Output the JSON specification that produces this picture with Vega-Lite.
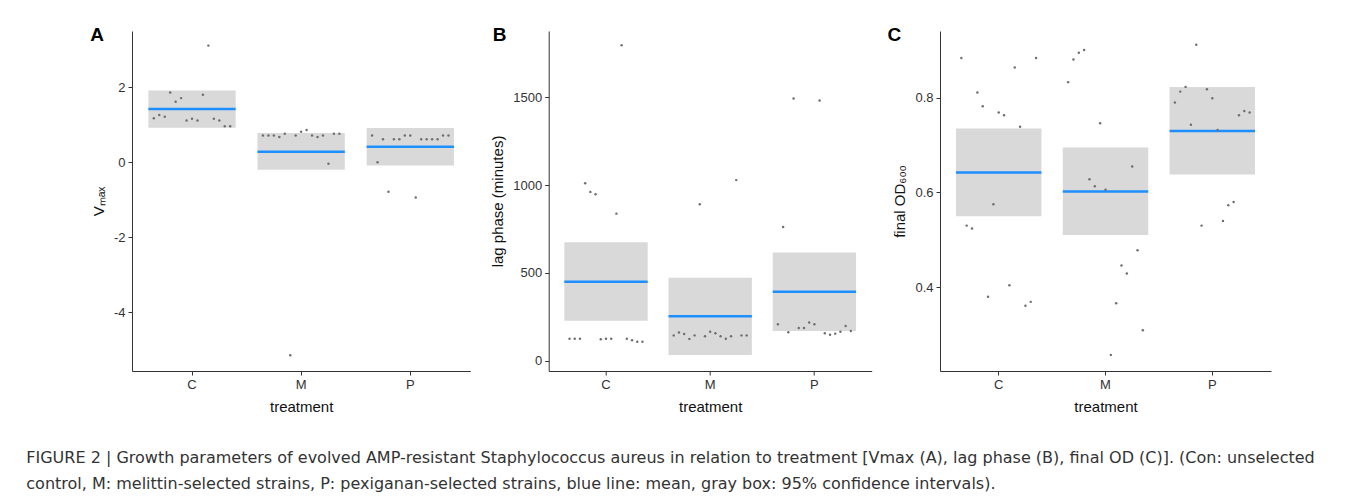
{
  "$schema": "https://vega.github.io/schema/vega-lite/v6.json",
  "background": "white",
  "padding": {"left": 26, "top": 26, "right": 5, "bottom": 5},
  "config": {
    "view": {"stroke": null},
    "font": "Liberation Sans",
    "axis": {"domainColor": "#333333", "domainWidth": 1, "tickColor": "#333333", "tickSize": 4, "tickWidth": 1, "labelColor": "#333333", "labelFontSize": 13, "titleFontSize": 15, "titleFontWeight": "normal", "titleColor": "#111111", "labelPadding": 3, "grid": false, "titlePadding": 7},
    "axisX": {"labelAngle": 0, "titlePadding": 8},
    "title": {"font": "Liberation Sans"}
  },
  "title": {
    "text": ["FIGURE 2 | Growth parameters of evolved AMP-resistant Staphylococcus aureus in relation to treatment [Vmax (A), lag phase (B), final OD (C)]. (Con: unselected", "control, M: melittin-selected strains, P: pexiganan-selected strains, blue line: mean, gray box: 95% confidence intervals)."],
    "orient": "bottom", "anchor": "start", "frame": "group", "dx": -105.7, "offset": 36,
    "font": "DejaVu Sans", "fontSize": 16, "fontWeight": "normal", "color": "#333333", "lineHeight": 26
  },
  "datasets": {
    "summ": [
      {"panel": "A", "treatment": "C", "mean": 1.42, "lo": 0.92, "hi": 1.91},
      {"panel": "A", "treatment": "M", "mean": 0.28, "lo": -0.20, "hi": 0.78},
      {"panel": "A", "treatment": "P", "mean": 0.41, "lo": -0.09, "hi": 0.91},
      {"panel": "B", "treatment": "C", "mean": 450, "lo": 228, "hi": 675},
      {"panel": "B", "treatment": "M", "mean": 253, "lo": 32, "hi": 473},
      {"panel": "B", "treatment": "P", "mean": 393, "lo": 169, "hi": 616},
      {"panel": "C", "treatment": "C", "mean": 0.642, "lo": 0.550, "hi": 0.735},
      {"panel": "C", "treatment": "M", "mean": 0.602, "lo": 0.510, "hi": 0.695},
      {"panel": "C", "treatment": "P", "mean": 0.730, "lo": 0.638, "hi": 0.823}
    ],
    "pts": [
      {"panel": "A", "treatment": "C", "jitter": -0.35, "value": 1.17},
      {"panel": "A", "treatment": "C", "jitter": -0.30, "value": 1.26},
      {"panel": "A", "treatment": "C", "jitter": -0.25, "value": 1.21},
      {"panel": "A", "treatment": "C", "jitter": -0.20, "value": 1.86},
      {"panel": "A", "treatment": "C", "jitter": -0.15, "value": 1.61},
      {"panel": "A", "treatment": "C", "jitter": -0.10, "value": 1.71},
      {"panel": "A", "treatment": "C", "jitter": -0.05, "value": 1.11},
      {"panel": "A", "treatment": "C", "jitter": 0.00, "value": 1.16},
      {"panel": "A", "treatment": "C", "jitter": 0.05, "value": 1.11},
      {"panel": "A", "treatment": "C", "jitter": 0.10, "value": 1.80},
      {"panel": "A", "treatment": "C", "jitter": 0.15, "value": 3.11},
      {"panel": "A", "treatment": "C", "jitter": 0.20, "value": 1.16},
      {"panel": "A", "treatment": "C", "jitter": 0.25, "value": 1.11},
      {"panel": "A", "treatment": "C", "jitter": 0.30, "value": 0.96},
      {"panel": "A", "treatment": "C", "jitter": 0.35, "value": 0.96},
      {"panel": "A", "treatment": "M", "jitter": -0.35, "value": 0.71},
      {"panel": "A", "treatment": "M", "jitter": -0.30, "value": 0.71},
      {"panel": "A", "treatment": "M", "jitter": -0.25, "value": 0.71},
      {"panel": "A", "treatment": "M", "jitter": -0.20, "value": 0.67},
      {"panel": "A", "treatment": "M", "jitter": -0.15, "value": 0.76},
      {"panel": "A", "treatment": "M", "jitter": -0.10, "value": -5.15},
      {"panel": "A", "treatment": "M", "jitter": -0.05, "value": 0.71},
      {"panel": "A", "treatment": "M", "jitter": 0.00, "value": 0.81},
      {"panel": "A", "treatment": "M", "jitter": 0.05, "value": 0.86},
      {"panel": "A", "treatment": "M", "jitter": 0.10, "value": 0.71},
      {"panel": "A", "treatment": "M", "jitter": 0.15, "value": 0.67},
      {"panel": "A", "treatment": "M", "jitter": 0.20, "value": 0.71},
      {"panel": "A", "treatment": "M", "jitter": 0.25, "value": -0.04},
      {"panel": "A", "treatment": "M", "jitter": 0.30, "value": 0.76},
      {"panel": "A", "treatment": "M", "jitter": 0.35, "value": 0.76},
      {"panel": "A", "treatment": "P", "jitter": -0.35, "value": 0.71},
      {"panel": "A", "treatment": "P", "jitter": -0.30, "value": 0.00},
      {"panel": "A", "treatment": "P", "jitter": -0.25, "value": 0.61},
      {"panel": "A", "treatment": "P", "jitter": -0.20, "value": -0.79},
      {"panel": "A", "treatment": "P", "jitter": -0.15, "value": 0.61},
      {"panel": "A", "treatment": "P", "jitter": -0.10, "value": 0.61},
      {"panel": "A", "treatment": "P", "jitter": -0.05, "value": 0.71},
      {"panel": "A", "treatment": "P", "jitter": 0.00, "value": 0.71},
      {"panel": "A", "treatment": "P", "jitter": 0.05, "value": -0.94},
      {"panel": "A", "treatment": "P", "jitter": 0.10, "value": 0.61},
      {"panel": "A", "treatment": "P", "jitter": 0.15, "value": 0.61},
      {"panel": "A", "treatment": "P", "jitter": 0.20, "value": 0.61},
      {"panel": "A", "treatment": "P", "jitter": 0.25, "value": 0.61},
      {"panel": "A", "treatment": "P", "jitter": 0.30, "value": 0.71},
      {"panel": "A", "treatment": "P", "jitter": 0.35, "value": 0.71},
      {"panel": "B", "treatment": "C", "jitter": -0.35, "value": 125},
      {"panel": "B", "treatment": "C", "jitter": -0.30, "value": 125},
      {"panel": "B", "treatment": "C", "jitter": -0.25, "value": 125},
      {"panel": "B", "treatment": "C", "jitter": -0.20, "value": 1011},
      {"panel": "B", "treatment": "C", "jitter": -0.15, "value": 962},
      {"panel": "B", "treatment": "C", "jitter": -0.10, "value": 948},
      {"panel": "B", "treatment": "C", "jitter": -0.05, "value": 122},
      {"panel": "B", "treatment": "C", "jitter": 0.00, "value": 125},
      {"panel": "B", "treatment": "C", "jitter": 0.05, "value": 125},
      {"panel": "B", "treatment": "C", "jitter": 0.10, "value": 838},
      {"panel": "B", "treatment": "C", "jitter": 0.15, "value": 1798},
      {"panel": "B", "treatment": "C", "jitter": 0.20, "value": 125},
      {"panel": "B", "treatment": "C", "jitter": 0.25, "value": 116},
      {"panel": "B", "treatment": "C", "jitter": 0.30, "value": 108},
      {"panel": "B", "treatment": "C", "jitter": 0.35, "value": 108},
      {"panel": "B", "treatment": "M", "jitter": -0.35, "value": 144},
      {"panel": "B", "treatment": "M", "jitter": -0.30, "value": 160},
      {"panel": "B", "treatment": "M", "jitter": -0.25, "value": 152},
      {"panel": "B", "treatment": "M", "jitter": -0.20, "value": 124},
      {"panel": "B", "treatment": "M", "jitter": -0.15, "value": 144},
      {"panel": "B", "treatment": "M", "jitter": -0.10, "value": 891},
      {"panel": "B", "treatment": "M", "jitter": -0.05, "value": 139},
      {"panel": "B", "treatment": "M", "jitter": 0.00, "value": 165},
      {"panel": "B", "treatment": "M", "jitter": 0.05, "value": 156},
      {"panel": "B", "treatment": "M", "jitter": 0.10, "value": 139},
      {"panel": "B", "treatment": "M", "jitter": 0.15, "value": 125},
      {"panel": "B", "treatment": "M", "jitter": 0.20, "value": 139},
      {"panel": "B", "treatment": "M", "jitter": 0.25, "value": 1029},
      {"panel": "B", "treatment": "M", "jitter": 0.30, "value": 144},
      {"panel": "B", "treatment": "M", "jitter": 0.35, "value": 144},
      {"panel": "B", "treatment": "P", "jitter": -0.35, "value": 207},
      {"panel": "B", "treatment": "P", "jitter": -0.30, "value": 762},
      {"panel": "B", "treatment": "P", "jitter": -0.25, "value": 162},
      {"panel": "B", "treatment": "P", "jitter": -0.20, "value": 1494},
      {"panel": "B", "treatment": "P", "jitter": -0.15, "value": 186},
      {"panel": "B", "treatment": "P", "jitter": -0.10, "value": 186},
      {"panel": "B", "treatment": "P", "jitter": -0.05, "value": 217},
      {"panel": "B", "treatment": "P", "jitter": 0.00, "value": 207},
      {"panel": "B", "treatment": "P", "jitter": 0.05, "value": 1483},
      {"panel": "B", "treatment": "P", "jitter": 0.10, "value": 156},
      {"panel": "B", "treatment": "P", "jitter": 0.15, "value": 148},
      {"panel": "B", "treatment": "P", "jitter": 0.20, "value": 154},
      {"panel": "B", "treatment": "P", "jitter": 0.25, "value": 165},
      {"panel": "B", "treatment": "P", "jitter": 0.30, "value": 198},
      {"panel": "B", "treatment": "P", "jitter": 0.35, "value": 169},
      {"panel": "C", "treatment": "C", "jitter": -0.35, "value": 0.884},
      {"panel": "C", "treatment": "C", "jitter": -0.30, "value": 0.530},
      {"panel": "C", "treatment": "C", "jitter": -0.25, "value": 0.524},
      {"panel": "C", "treatment": "C", "jitter": -0.20, "value": 0.811},
      {"panel": "C", "treatment": "C", "jitter": -0.15, "value": 0.782},
      {"panel": "C", "treatment": "C", "jitter": -0.10, "value": 0.380},
      {"panel": "C", "treatment": "C", "jitter": -0.05, "value": 0.575},
      {"panel": "C", "treatment": "C", "jitter": 0.00, "value": 0.769},
      {"panel": "C", "treatment": "C", "jitter": 0.05, "value": 0.763},
      {"panel": "C", "treatment": "C", "jitter": 0.10, "value": 0.404},
      {"panel": "C", "treatment": "C", "jitter": 0.15, "value": 0.864},
      {"panel": "C", "treatment": "C", "jitter": 0.20, "value": 0.739},
      {"panel": "C", "treatment": "C", "jitter": 0.25, "value": 0.361},
      {"panel": "C", "treatment": "C", "jitter": 0.30, "value": 0.369},
      {"panel": "C", "treatment": "C", "jitter": 0.35, "value": 0.884},
      {"panel": "C", "treatment": "M", "jitter": -0.35, "value": 0.833},
      {"panel": "C", "treatment": "M", "jitter": -0.30, "value": 0.881},
      {"panel": "C", "treatment": "M", "jitter": -0.25, "value": 0.895},
      {"panel": "C", "treatment": "M", "jitter": -0.20, "value": 0.901},
      {"panel": "C", "treatment": "M", "jitter": -0.15, "value": 0.628},
      {"panel": "C", "treatment": "M", "jitter": -0.10, "value": 0.613},
      {"panel": "C", "treatment": "M", "jitter": -0.05, "value": 0.746},
      {"panel": "C", "treatment": "M", "jitter": 0.00, "value": 0.606},
      {"panel": "C", "treatment": "M", "jitter": 0.05, "value": 0.257},
      {"panel": "C", "treatment": "M", "jitter": 0.10, "value": 0.366},
      {"panel": "C", "treatment": "M", "jitter": 0.15, "value": 0.446},
      {"panel": "C", "treatment": "M", "jitter": 0.20, "value": 0.429},
      {"panel": "C", "treatment": "M", "jitter": 0.25, "value": 0.655},
      {"panel": "C", "treatment": "M", "jitter": 0.30, "value": 0.478},
      {"panel": "C", "treatment": "M", "jitter": 0.35, "value": 0.309},
      {"panel": "C", "treatment": "P", "jitter": -0.35, "value": 0.790},
      {"panel": "C", "treatment": "P", "jitter": -0.30, "value": 0.813},
      {"panel": "C", "treatment": "P", "jitter": -0.25, "value": 0.823},
      {"panel": "C", "treatment": "P", "jitter": -0.20, "value": 0.743},
      {"panel": "C", "treatment": "P", "jitter": -0.15, "value": 0.912},
      {"panel": "C", "treatment": "P", "jitter": -0.10, "value": 0.530},
      {"panel": "C", "treatment": "P", "jitter": -0.05, "value": 0.818},
      {"panel": "C", "treatment": "P", "jitter": 0.00, "value": 0.799},
      {"panel": "C", "treatment": "P", "jitter": 0.05, "value": 0.732},
      {"panel": "C", "treatment": "P", "jitter": 0.10, "value": 0.540},
      {"panel": "C", "treatment": "P", "jitter": 0.15, "value": 0.573},
      {"panel": "C", "treatment": "P", "jitter": 0.20, "value": 0.580},
      {"panel": "C", "treatment": "P", "jitter": 0.25, "value": 0.763},
      {"panel": "C", "treatment": "P", "jitter": 0.30, "value": 0.772},
      {"panel": "C", "treatment": "P", "jitter": 0.35, "value": 0.769}
    ]
  },
  "spacing": 77.7,
  "bounds": "flush",
  "hconcat": [
    {
      "width": 338.3, "height": 340,
      "title": {"text": "A", "anchor": "start", "frame": "group", "dx": -41.7, "offset": 0, "dy": 29, "baseline": "alphabetic", "fontSize": 19, "fontWeight": "bold", "color": "#000000"},
      "resolve": {"scale": {"x": "independent", "xOffset": "independent"}},
      "layer": [
        {"data": {"name": "summ"}, "transform": [{"filter": "datum.panel === 'A'"}],
         "layer": [
           {"mark": {"type": "bar", "color": "#d9d9d9"},
            "encoding": {
              "x": {"field": "treatment", "type": "nominal", "scale": {"paddingInner": 0.2, "paddingOuter": 0.15}, "axis": {"title": "treatment"}},
              "y": {"field": "lo", "type": "quantitative", "scale": {"domain": [-5.57, 3.5], "nice": false, "zero": false}, "axis": {"title": "Vₘₐₓ", "values": [-4, -2, 0, 2], "labelExpr": "toString(datum.value)"}},
              "y2": {"field": "hi"}}},
           {"mark": {"type": "bar", "fill": "transparent", "stroke": "#1e8fff", "strokeWidth": 2.5},
            "encoding": {
              "x": {"field": "treatment", "type": "nominal", "axis": {"title": "treatment"}},
              "y": {"field": "mean", "type": "quantitative", "axis": {"title": "Vₘₐₓ", "values": [-4, -2, 0, 2], "labelExpr": "toString(datum.value)"}},
              "y2": {"field": "mean"}}}
         ]},
        {"data": {"name": "pts"}, "transform": [{"filter": "datum.panel === 'A'"}],
         "mark": {"type": "point", "filled": true, "size": 6, "color": "#6e6e6e", "opacity": 1},
         "encoding": {
           "x": {"field": "treatment", "type": "nominal", "scale": {"paddingInner": 0.2, "paddingOuter": 0.15}, "axis": null},
           "xOffset": {"field": "jitter", "type": "quantitative", "scale": {"domain": [-0.4, 0.4]}},
           "y": {"field": "value", "type": "quantitative", "axis": {"title": "Vₘₐₓ", "values": [-4, -2, 0, 2], "labelExpr": "toString(datum.value)"}}}}
      ]
    },
    {
      "spacing": 68.3,
      "bounds": "flush",
      "hconcat": [
        {
          "width": 323, "height": 340,
          "title": {"text": "B", "anchor": "start", "frame": "group", "dx": -56, "offset": 0, "dy": 29, "baseline": "alphabetic", "fontSize": 19, "fontWeight": "bold", "color": "#000000"},
          "resolve": {"scale": {"x": "independent", "xOffset": "independent"}},
          "layer": [
            {"data": {"name": "summ"}, "transform": [{"filter": "datum.panel === 'B'"}],
             "layer": [
               {"mark": {"type": "bar", "color": "#d9d9d9"},
                "encoding": {
                  "x": {"field": "treatment", "type": "nominal", "scale": {"paddingInner": 0.2, "paddingOuter": 0.15}, "axis": {"title": "treatment"}},
                  "y": {"field": "lo", "type": "quantitative", "scale": {"domain": [-59, 1879], "nice": false, "zero": false}, "axis": {"title": "lag phase (minutes)", "values": [0, 500, 1000, 1500], "format": "d"}},
                  "y2": {"field": "hi"}}},
               {"mark": {"type": "bar", "fill": "transparent", "stroke": "#1e8fff", "strokeWidth": 2.5},
                "encoding": {
                  "x": {"field": "treatment", "type": "nominal", "axis": {"title": "treatment"}},
                  "y": {"field": "mean", "type": "quantitative", "axis": {"title": "lag phase (minutes)", "values": [0, 500, 1000, 1500], "format": "d"}},
                  "y2": {"field": "mean"}}}
             ]},
            {"data": {"name": "pts"}, "transform": [{"filter": "datum.panel === 'B'"}],
             "mark": {"type": "point", "filled": true, "size": 6, "color": "#6e6e6e", "opacity": 1},
             "encoding": {
               "x": {"field": "treatment", "type": "nominal", "scale": {"paddingInner": 0.2, "paddingOuter": 0.15}, "axis": null},
               "xOffset": {"field": "jitter", "type": "quantitative", "scale": {"domain": [-0.4, 0.4]}},
               "y": {"field": "value", "type": "quantitative", "axis": {"title": "lag phase (minutes)", "values": [0, 500, 1000, 1500], "format": "d"}}}}
          ]
        },
        {
          "width": 331, "height": 340,
          "title": {"text": "C", "anchor": "start", "frame": "group", "dx": -52.6, "offset": 0, "dy": 29, "baseline": "alphabetic", "fontSize": 19, "fontWeight": "bold", "color": "#000000"},
          "resolve": {"scale": {"x": "independent", "xOffset": "independent"}},
          "layer": [
            {"data": {"name": "summ"}, "transform": [{"filter": "datum.panel === 'C'"}],
             "layer": [
               {"mark": {"type": "bar", "color": "#d9d9d9"},
                "encoding": {
                  "x": {"field": "treatment", "type": "nominal", "scale": {"paddingInner": 0.2, "paddingOuter": 0.15}, "axis": {"title": "treatment"}},
                  "y": {"field": "lo", "type": "quantitative", "scale": {"domain": [0.223, 0.941], "nice": false, "zero": false}, "axis": {"title": "final OD₆₀₀", "values": [0.4, 0.6, 0.8], "format": ".1f"}},
                  "y2": {"field": "hi"}}},
               {"mark": {"type": "bar", "fill": "transparent", "stroke": "#1e8fff", "strokeWidth": 2.5},
                "encoding": {
                  "x": {"field": "treatment", "type": "nominal", "axis": {"title": "treatment"}},
                  "y": {"field": "mean", "type": "quantitative", "axis": {"title": "final OD₆₀₀", "values": [0.4, 0.6, 0.8], "format": ".1f"}},
                  "y2": {"field": "mean"}}}
             ]},
            {"data": {"name": "pts"}, "transform": [{"filter": "datum.panel === 'C'"}],
             "mark": {"type": "point", "filled": true, "size": 6, "color": "#6e6e6e", "opacity": 1},
             "encoding": {
               "x": {"field": "treatment", "type": "nominal", "scale": {"paddingInner": 0.2, "paddingOuter": 0.15}, "axis": null},
               "xOffset": {"field": "jitter", "type": "quantitative", "scale": {"domain": [-0.4, 0.4]}},
               "y": {"field": "value", "type": "quantitative", "axis": {"title": "final OD₆₀₀", "values": [0.4, 0.6, 0.8], "format": ".1f"}}}}
          ]
        }
      ]
    }
  ]
}
